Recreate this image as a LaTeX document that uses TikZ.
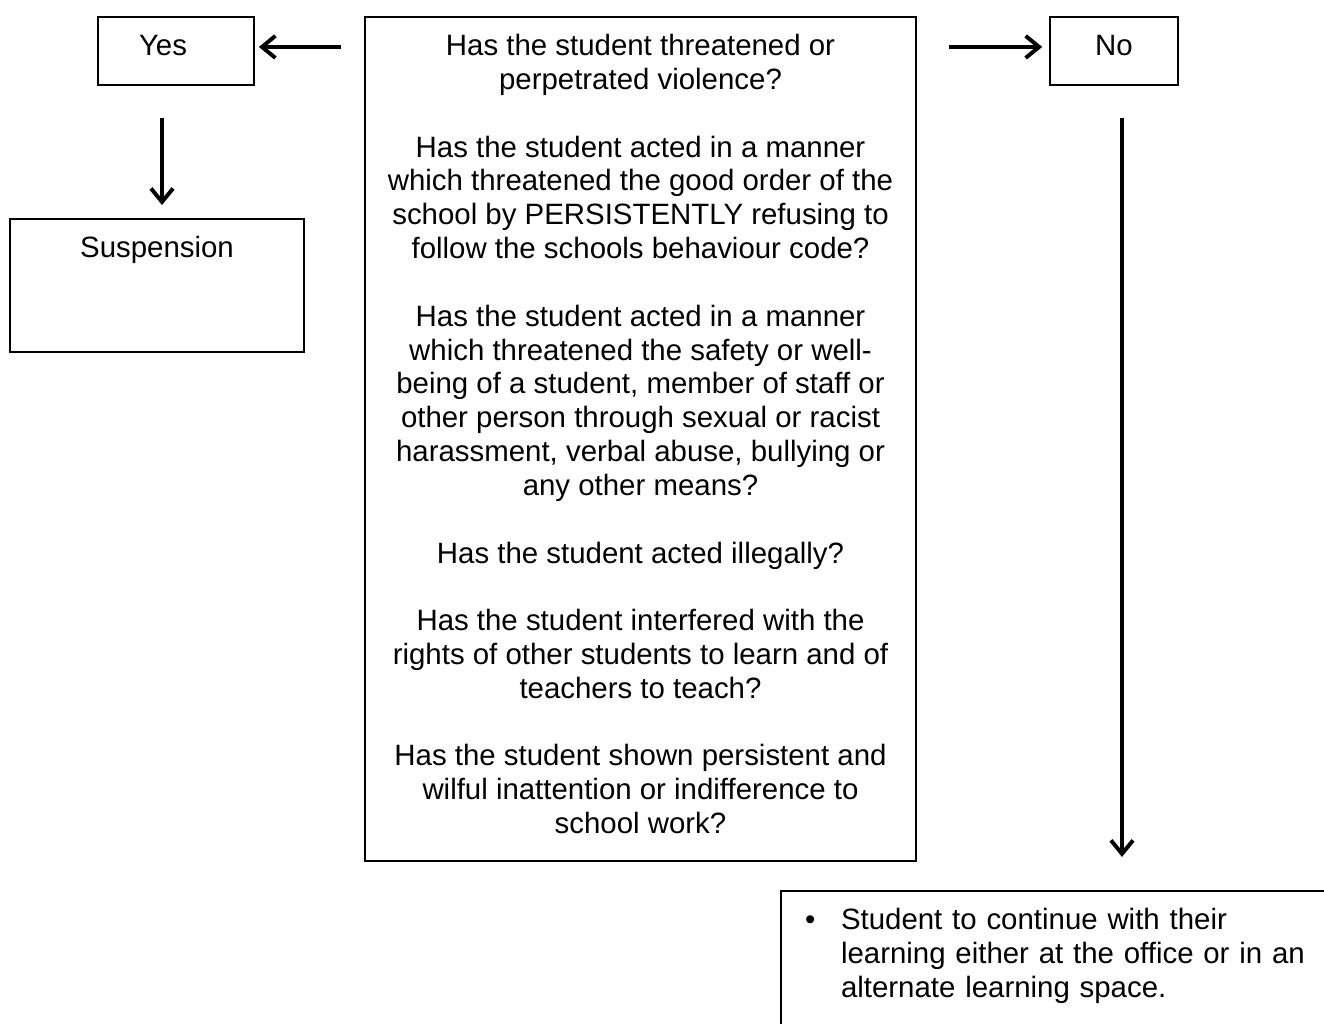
\documentclass[tikz,border=0pt]{standalone}
\usepackage{fontspec}
\setmainfont{Liberation Sans}
\usetikzlibrary{arrows.meta, calc}

\begin{document}
\begin{tikzpicture}[
        x=0.408pt, y=-0.408pt,
        font=\fontsize{12}{13.8}\selectfont,
        % boxes and arrows
        box/.style={draw, line width=0.8pt, align=center, anchor=north,
            inner xsep=4pt, inner ysep=7.1pt},
        arr/.style={line width=1.6pt, -{Straight Barb[length=5.5pt, width=9pt]}}
    ]
    \clip (0,0) rectangle (1324,1023);

    \node[box, minimum width=224.8pt, minimum height=343.5pt] (crit) at (640.5,16) {%
        Has the student threatened or\\
        perpetrated violence?\\[13.8pt]
        Has the student acted in a manner\\
        which threatened the good order of the\\
        school by PERSISTENTLY refusing to\\
        follow the schools behaviour code?\\[13.8pt]
        Has the student acted in a manner\\
        which threatened the safety or well-\\
        being of a student, member of staff or\\
        other person through sexual or racist\\
        harassment, verbal abuse, bullying or\\
        any other means?\\[13.8pt]
        Has the student acted illegally?\\[13.8pt]
        Has the student interfered with the\\
        rights of other students to learn and of\\
        teachers to teach?\\[13.8pt]
        Has the student shown persistent and\\
        wilful inattention or indifference to\\
        school work?\rule[-4pt]{0pt}{0pt}};
    \node[box, minimum width=63.6pt, text height=8.6pt, text depth=4.9pt] (yes) at (176,16) {Yes\hspace*{10.6pt}};
    \node[box, minimum width=52.2pt, text height=8.6pt, text depth=4.9pt] (no) at (1114,16) {No};
    \node[box, minimum width=120pt, text height=8.6pt, text depth=31.5pt] (susp) at (157,218) {Suspension};
    \node[box, anchor=north west, align=left, inner xsep=24.5pt, text width=215pt] (cont) at (780,890) {%
        \llap{\textbullet\hspace{10.5pt}}Student to continue with their\\
        learning either at the office or in an\\
        alternate learning space.\rule[-40pt]{0pt}{0pt}};

    % connectors
    \coordinate (yesdrop) at ($(yes.south)+(-14,0)$);
    \coordinate (nodrop) at ($(no.south)+(8,0)$);
    \draw[arr, shorten <=9.4pt, shorten >=1.6pt]
        ($(crit.west |- yes.east)+(0,-4)$) -- ($(yes.east)+(0,-4)$);
    \draw[arr, shorten <=13pt, shorten >=2.8pt]
        ($(crit.east |- no.west)+(0,-4)$) -- ($(no.west)+(0,-4)$);
    \draw[arr, shorten <=13pt, shorten >=5.3pt] (yesdrop) -- (yesdrop |- susp.north);
    \draw[arr, shorten <=13pt, shorten >=13.5pt] (nodrop) -- (nodrop |- cont.north);
\end{tikzpicture}
\end{document}
